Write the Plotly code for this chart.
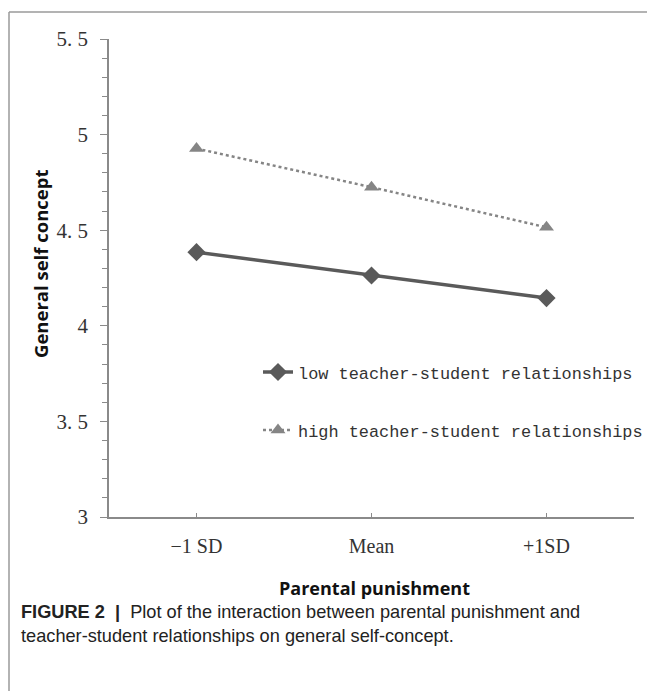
import plotly.graph_objects as go

categories = ["\u22121 SD", "Mean", "+1SD"]
low_values = [4.385, 4.263, 4.145]
high_values = [4.927, 4.725, 4.515]
ytick_vals = [3, 3.5, 4, 4.5, 5, 5.5]
ytick_text = ["3", "3. 5", "4", "4. 5", "5", "5. 5"]

OFF = 8  # page body margin
W, H = 655 - OFF, 691 - OFF
L, R, T, B = 109 - OFF, 21, 39 - OFF, 174
pw, ph = W - L - R, H - T - B


def px(x):
    # x in page pixels -> paper coordinate
    return (x - OFF - L) / pw


def py(y):
    return (H - B - (y - OFF)) / ph


fig = go.Figure()
fig.add_trace(go.Scatter(
    x=categories, y=low_values, mode="lines+markers",
    name="low teacher-student relationships",
    line=dict(color="#5a5a5a", width=3.5),
    marker=dict(symbol="diamond", size=14, color="#5a5a5a"),
    legend="legend",
))
fig.add_trace(go.Scatter(
    x=categories, y=high_values, mode="lines+markers",
    name="high teacher-student relationships",
    line=dict(color="#858585", width=2.5, dash="dot"),
    marker=dict(symbol="triangle-up", size=13, color="#858585"),
    legend="legend2",
))

axis_color = "#8a8a8a"
legend_font = dict(family="Liberation Mono", size=16.9, color="#333333")
fig.update_layout(
    width=W, height=H,
    margin=dict(l=L, r=R, t=T, b=B, autoexpand=False),
    paper_bgcolor="white", plot_bgcolor="white",
    xaxis=dict(
        type="category", range=[-0.5, 2.5],
        showline=True, linecolor=axis_color, linewidth=1.5,
        showgrid=False, zeroline=False,
        ticks="inside", ticklen=4, tickcolor=axis_color,
        tickfont=dict(family="Liberation Serif", size=20, color="#333333"),
        ticklabelstandoff=10,
    ),
    yaxis=dict(
        range=[3, 5.5], showline=True, linecolor=axis_color, linewidth=1.5,
        showgrid=False, zeroline=False,
        tickvals=ytick_vals, ticktext=ytick_text,
        ticks="outside", ticklen=7, tickcolor=axis_color,
        minor=dict(dtick=0.1, ticks="outside", ticklen=5, tickcolor=axis_color, showgrid=False),
        tickfont=dict(family="Liberation Serif", size=21, color="#333333"),
        ticklabelstandoff=8,
    ),
    legend=dict(
        x=px(258), y=py(372), xanchor="left", yanchor="middle",
        bgcolor="rgba(0,0,0,0)", font=legend_font,
    ),
    legend2=dict(
        x=px(258), y=py(430), xanchor="left", yanchor="middle",
        bgcolor="rgba(0,0,0,0)", font=legend_font,
    ),
    showlegend=True,
    shapes=[
        dict(type="line", xref="paper", yref="paper", x0=px(9), x1=px(700), y0=py(12), y1=py(12),
             line=dict(color="#9a9a9a", width=1.5)),
        dict(type="line", xref="paper", yref="paper", x0=px(9), x1=px(9), y0=py(12), y1=py(720),
             line=dict(color="#9a9a9a", width=1.5)),
    ],
    annotations=[
        dict(text="<b>General self concept</b>", xref="paper", yref="paper",
             x=px(40), y=py(264), xanchor="center", yanchor="middle", textangle=-90,
             showarrow=False, font=dict(family="Open Sans", size=18.5, color="#111111")),
        dict(text="<b>Parental punishment</b>", xref="paper", yref="paper",
             x=px(374), y=py(588), xanchor="center", yanchor="middle",
             showarrow=False, font=dict(family="Open Sans", size=18, color="#111111")),
        dict(text="<b>FIGURE 2</b>  <b>|</b>  Plot of the interaction between parental punishment and<br>"
                  "teacher-student relationships on general self-concept.",
             xref="paper", yref="paper", x=px(19), y=py(624), xanchor="left", yanchor="middle",
             align="left", showarrow=False,
             font=dict(family="Liberation Sans", size=18.2, color="#222222")),
    ],
)

fig.write_html("out.html")
